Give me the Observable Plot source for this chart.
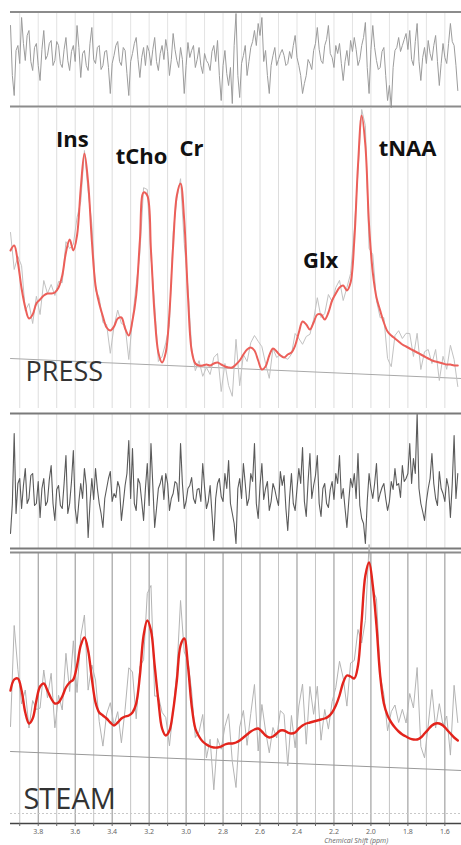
<!DOCTYPE html>
<html><head><meta charset="utf-8">
<script src="https://cdn.jsdelivr.net/npm/d3@7"></script>
<script src="https://cdn.jsdelivr.net/npm/@observablehq/plot@0.6"></script>
<style>
html,body{margin:0;padding:0;background:#fff;}
#chart{width:461px;}
#chart svg{display:block;}
</style></head><body><div id="chart"></div>
<script>
// Spectral sampling: fits every 0.02 ppm, residuals every 0.01 ppm, both from 3.95 ppm
const ppmStart = 3.95, fitStep = 0.02, residStep = 0.01;

// PRESS fitted spectrum (arbitrary intensity units)
const pressFit = [150,155,138,112,93,82,86,97,101,105,107,107,108,113,125,148,161,150,165,212,
247,218,160,115,97,84,73,70,74,82,83,72,65,80,105,160,208,205,150,85,
48,38,48,88,155,205,217,180,105,50,37,35,35,36,35,37,38,36,34,33,
33,36,40,46,51,53,50,40,31,34,45,52,49,45,43,46,48,55,68,79,
76,71,78,86,86,81,88,100,107,113,115,110,118,160,235,285,255,175,128,103,
90,78,69,65,62,59,56,54,52,50,48,46,44,42,40,39,38,37,36,36,
35,35];
// PRESS residual (data - fit)
const pressResidual = [
30,-20,-40,5,10,-8,38,12,-5,20,25,-6,-15,8,12,-10,-25,6,25,-4,
0,12,15,-10,-5,14,10,-8,-12,6,18,-5,-15,4,10,-6,30,8,-22,2,
5,-10,-15,12,28,-4,-8,8,10,-14,-10,4,5,-12,-38,-8,0,10,14,-6,
-10,8,5,-18,-40,-6,2,12,18,-4,-22,-2,8,-10,10,4,-10,6,18,-6,
-15,2,10,-4,16,4,-20,-4,22,6,-5,-12,8,-4,-38,-10,13,-2,5,10,
-12,-4,8,-10,-18,2,-5,-8,-15,4,10,-6,15,-20,-45,-10,5,-18,-30,-12,
-48,10,42,-20,-42,-8,0,10,-20,-6,8,14,25,10,32,20,38,-6,5,-20,
-38,-10,0,8,-10,-4,2,6,0,-10,-8,4,-3,10,20,-2,-10,-20,-38,-28,
-20,-4,-8,-14,5,12,28,6,-5,-8,10,16,30,2,-2,-12,10,2,12,-8,
-25,-6,5,-10,15,4,18,6,-10,-4,10,18,33,-12,-38,6,30,8,-5,-14,
-12,4,8,-20,-45,-30,-52,-12,5,8,18,4,10,16,22,6,25,-4,-10,14,
32,-6,-25,-2,8,-8,15,2,-5,10,20,-6,-30,-8,12,-2,-8,12,32,14,
10,-10,-35];
// STEAM fitted spectrum
const steamFit = [110,121,122,110,88,77,82,100,114,117,110,102,97,98,104,113,118,121,135,155,
163,150,122,98,88,85,82,78,75,78,82,84,85,88,97,125,165,180,170,135,
100,72,65,70,90,120,155,162,135,95,72,64,59,56,54,53,53,54,56,57,
57,58,60,63,66,69,71,72,69,65,63,64,67,70,70,68,67,68,72,75,
77,78,79,80,81,82,84,88,95,105,118,125,124,122,135,180,225,238,215,175,
125,97,85,78,73,69,66,64,62,61,61,63,67,71,75,77,77,75,71,67,
63,60];
// STEAM residual
const steamResidual = [
-40,-10,60,-20,10,15,-15,8,25,-10,-5,18,20,-12,-10,12,-24,5,15,-12,
-8,14,28,-10,-27,4,8,-12,-15,10,38,-20,-10,12,43,-15,-30,-8,10,-5,
25,8,-44,-10,15,-6,25,5,-10,-20,-34,-5,5,15,22,-8,0,-4,12,6,
-27,-10,8,20,53,-5,45,-10,-17,15,10,-8,-27,5,30,-12,50,8,-34,-15,
5,10,18,-6,20,10,-17,-5,0,12,10,-8,50,10,-15,-8,5,8,16,-5,
-10,4,5,-8,30,6,-15,-8,8,-20,-47,-5,10,15,-3,-8,20,5,33,-10,
-20,-30,-50,5,15,-5,30,10,-12,-5,20,12,50,-10,-25,8,30,-6,5,12,
-17,-8,10,4,-5,-12,22,8,18,-15,-37,-4,20,-10,-17,5,25,10,46,-8,
-23,12,40,-5,8,18,38,-10,-23,5,10,-10,-14,4,12,-6,20,10,38,-5,
5,-15,-34,-8,15,6,20,-5,40,-12,-25,-30,-50,-8,20,5,-5,10,30,-8,
0,6,10,-5,-17,-8,12,4,25,8,10,-4,28,12,15,20,50,10,35,20,
80,5,-10,-18,-27,-8,5,15,40,10,-5,-12,22,5,0,-8,15,6,-24,10,
58,-5,20];

// Linear baselines (ppm, intensity)
const pressBaselinePpm = [3.95, 1.51], pressBaselineVal = [42, 22];
const steamBaselinePpm = [3.95, 1.51], steamBaselineVal = [49, 30];

// Axis ticks
const majorTicks = [3.8,3.6,3.4,3.2,3.0,2.8,2.6,2.4,2.2,2.0,1.8,1.6];
const minorTicks = [3.9,3.7,3.5,3.3,3.1,2.9,2.7,2.5,2.3,2.1,1.9,1.7];
const axisTitle = "Chemical Shift (ppm)";

// Peak labels
const peakNames = ["Ins","tCho","Cr","Glx","tNAA"];
const peakLabelPpm = [3.615, 3.241, 2.971, 2.272, 1.802];
const peakLabelLevel = [254, 237, 245, 133, 245];
const seqNames = ["PRESS","STEAM"];

// ---- build tables ----
const fitPpm = Array.from({length: pressFit.length}, (_, i) => +(ppmStart - fitStep * i).toFixed(2));
const resPpm = Array.from({length: pressResidual.length}, (_, i) => +(ppmStart - residStep * i).toFixed(2));
const pressResidScale = 0.6, steamResidScale = 0.9;
const pressFitRows = fitPpm.map((p, i) => ({ppm: p, fit: pressFit[i],
  raw: pressFit[i] + pressResidual[2 * i] * pressResidScale}));
const steamFitRows = fitPpm.map((p, i) => ({ppm: p, fit: steamFit[i],
  raw: steamFit[i] + steamResidual[2 * i] * steamResidScale}));
const pressResRows = resPpm.map((p, i) => ({ppm: p, res: pressResidual[i]}));
const steamResRows = resPpm.map((p, i) => ({ppm: p, res: steamResidual[i]}));
const pressBase = pressBaselinePpm.map((p, i) => ({ppm: p, v: pressBaselineVal[i]}));
const steamBase = steamBaselinePpm.map((p, i) => ({ppm: p, v: steamBaselineVal[i]}));
const peaks = peakNames.map((n, i) => ({name: n, ppm: peakLabelPpm[i], v: peakLabelLevel[i]}));
const allGrid = [...majorTicks, ...minorTicks];

const W = 461;
const xOpt = {domain: [3.95, 1.51], axis: null};
const FONT = "'Open Sans', 'DejaVu Sans', sans-serif";
const base = {width: W, marginLeft: 10, marginRight: 0, marginTop: 0, marginBottom: 0,
  style: {background: "white", overflow: "visible"}};

// Panel 1: PRESS residual
const p1 = Plot.plot({...base, height: 108, x: xOpt, y: {domain: [-53, 55], axis: null},
  marks: [
    Plot.ruleX(allGrid, {y1: -51, y2: 43.5, stroke: "#e3e3e3"}),
    Plot.lineY(pressResRows, {x: "ppm", y: "res", stroke: "#9c9c9c", strokeWidth: 1}),
    Plot.ruleY([43.5, -51], {stroke: "#8c8c8c", strokeWidth: 2})
  ]});

// Panel 2: PRESS spectrum
const p2 = Plot.plot({...base, height: 300, x: xOpt, y: {domain: [-8, 292], axis: null},
  marks: [
    Plot.ruleX(allGrid, {y1: -8, y2: 292, stroke: "#dddddd"}),
    Plot.line(pressBase, {x: "ppm", y: "v", stroke: "#a9a9a9", strokeWidth: 1}),
    Plot.lineY(pressFitRows, {x: "ppm", y: "raw", stroke: "#c2c2c2", strokeWidth: 1}),
    Plot.lineY(pressFitRows, {x: "ppm", y: "fit", stroke: "#ec5f59", strokeWidth: 2, curve: "catmull-rom"}),
    Plot.text(peaks, {x: "ppm", y: "v", text: "name", fontFamily: FONT, fontWeight: "bold",
      fontSize: 22, fill: "#111", lineAnchor: "bottom"}),
    Plot.text([seqNames[0]], {x: 3.869, y: 20, fontFamily: FONT, fontSize: 27, fill: "#333",
      textAnchor: "start", lineAnchor: "bottom"})
  ]});

// Panel 3: STEAM residual
const p3 = Plot.plot({...base, height: 142, x: xOpt, y: {domain: [-57, 85], axis: null},
  marks: [
    Plot.ruleX(allGrid, {y1: -55, y2: 80, stroke: "#dcdcdc"}),
    Plot.lineY(steamResRows, {x: "ppm", y: "res", stroke: "#5a5a5a", strokeWidth: 1.1}),
    Plot.ruleY([80, -55], {stroke: "#7a7a7a", strokeWidth: 2})
  ]});

// Panel 4: STEAM spectrum with axis
const p4 = Plot.plot({...base, height: 295, marginBottom: 22,
  x: {domain: [3.95, 1.51]}, y: {domain: [-23, 250], axis: null},
  marks: [
    Plot.ruleX(minorTicks, {y1: -23, y2: 248, stroke: "#c4c4c4"}),
    Plot.ruleX(majorTicks, {y1: -23, y2: 248, stroke: "#8f8f8f"}),
    Plot.ruleY([-13], {stroke: "#c8c8c8", strokeDasharray: "2,2"}),
    Plot.line(steamBase, {x: "ppm", y: "v", stroke: "#999", strokeWidth: 1}),
    Plot.lineY(steamFitRows, {x: "ppm", y: "raw", stroke: "#b4b4b4", strokeWidth: 1}),
    Plot.lineY(steamFitRows, {x: "ppm", y: "fit", stroke: "#e3241c", strokeWidth: 2.4, curve: "catmull-rom"}),
    Plot.ruleY([248], {stroke: "#8c8c8c", strokeWidth: 2}),
    Plot.ruleY([-23], {stroke: "#444", strokeWidth: 1.5}),
    Plot.axisX(majorTicks, {tickSize: 3, tickPadding: 3, fontSize: 7, color: "#666",
      tickFormat: d => d.toFixed(1), label: null}),
    Plot.axisX(minorTicks, {tickSize: 3, tickFormat: () => "", label: null, color: "#666"}),
    Plot.text([axisTitle], {x: 2.08, frameAnchor: "bottom", dy: 19, fontSize: 7,
      fontStyle: "italic", fill: "#666", fontFamily: FONT}),
    Plot.text([seqNames[1]], {x: 3.88, y: -8, fontFamily: FONT, fontSize: 29, fill: "#333",
      textAnchor: "start", lineAnchor: "bottom"})
  ]});

const chart = document.getElementById("chart");
[p1, p2, p3, p4].forEach(p => chart.appendChild(p));
</script></body></html>
